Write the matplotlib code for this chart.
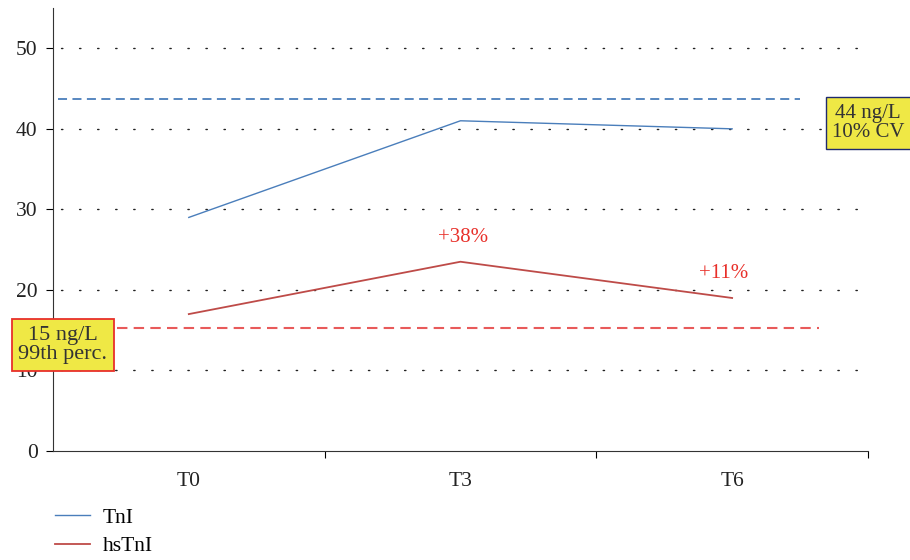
import matplotlib
matplotlib.use('Agg')
import matplotlib.pyplot as plt
from matplotlib.lines import Line2D

plt.rcParams['font.family'] = ['Liberation Serif', 'DejaVu Serif']

categories = ["T0", "T3", "T6"]
tni = [29, 41, 40]
hstni = [17, 23.5, 19]
cv10_level = 43.7
perc99_level = 15.3
pct_labels = ["+38%", "+11%"]
pct_y = [26.5, 22.1]

fig = plt.figure(figsize=(9.1, 5.6), dpi=100)
ax = fig.add_axes([0.0582, 0.1946, 0.8956, 0.7911])

x = list(range(len(categories)))
ax.set_xlim(-0.5, 2.5)
ax.set_ylim(0, 55)

# dotted gridlines
for y in [10, 20, 30, 40, 50]:
    ax.plot([-0.47, 2.47], [y, y], color='#222222', lw=1.0, ls=(0, (1, 12)),
            dash_capstyle='round', zorder=1)

# reference lines
ax.plot([-0.48, 2.25], [cv10_level, cv10_level], color='#4a7ebb', lw=1.3, ls=(0, (5, 3)), zorder=2)
ax.plot([-0.45, 2.32], [perc99_level, perc99_level], color='#e85a5a', lw=1.5, ls=(0, (5, 3)), zorder=2)

ax.plot(x, tni, color='#4a7ebb', lw=1.0, zorder=3)
ax.plot(x, hstni, color='#be4b48', lw=1.3, zorder=3)

ax.text(1.01, pct_y[0], pct_labels[0], color='#e8302a', ha='center', va='center', fontsize=15)
ax.text(1.97, pct_y[1], pct_labels[1], color='#e8302a', ha='center', va='center', fontsize=15)

# boxes
fig.text(0.954, (560 - 123) / 560, "44 ng/L\n10% CV", ha='center', va='center', fontsize=15,
         color='#333333', linespacing=1.05,
         bbox=dict(boxstyle='square,pad=0.3', fc='#efe845', ec='#1f2a6e', lw=1.0))
fig.text(0.0692, (560 - 345) / 560, "15 ng/L\n99th perc.", ha='center', va='center', fontsize=16,
         color='#333333', linespacing=1.0,
         bbox=dict(boxstyle='square,pad=0.3', fc='#efe845', ec='#e8302a', lw=1.3))

ax.spines['top'].set_visible(False)
ax.spines['right'].set_visible(False)
ax.spines['left'].set_color('#333333')
ax.spines['bottom'].set_color('#333333')

ax.set_yticks([0, 10, 20, 30, 40, 50])
ax.tick_params(axis='y', direction='out', length=5, labelsize=15.5, labelcolor='#222222', pad=6)
ax.set_xticks([0.5, 1.5, 2.5])
ax.set_xticklabels([])
ax.set_xticks(x, minor=True)
ax.set_xticklabels(categories, minor=True)
ax.tick_params(axis='x', which='major', direction='out', length=5)
ax.tick_params(axis='x', which='minor', length=0, labelsize=15.5, labelcolor='#222222', pad=15)

handles = [Line2D([0], [0], color='#4a7ebb', lw=1.0), Line2D([0], [0], color='#be4b48', lw=1.3)]
fig.legend(handles, ["TnI", "hsTnI"], loc='upper left', bbox_to_anchor=(0.06, 0.093),
           frameon=False, fontsize=15.5, handlelength=1.65, handletextpad=0.6,
           labelspacing=0.38, borderaxespad=0, borderpad=0)

fig.savefig('out.png', dpi=100)
